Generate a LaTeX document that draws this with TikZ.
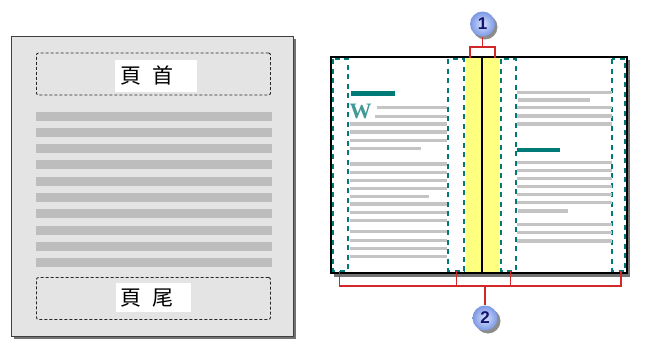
\documentclass[tikz,border=0pt]{standalone}
\usepackage{fontspec}
\newfontfamily\cjk{Noto Sans CJK TC}
\newfontfamily\wfont{Liberation Serif}
\newfontfamily\numfont{Liberation Sans}
\definecolor{pagegray}{HTML}{E4E4E4}
\definecolor{bargray}{HTML}{BDBDBD}
\definecolor{txtgray}{HTML}{C4C4C4}
\definecolor{tealc}{HTML}{007A76}
\definecolor{redc}{HTML}{D42828}
\definecolor{yel}{HTML}{FFFF80}
\definecolor{ballin}{HTML}{D8E2FF}
\definecolor{ballout}{HTML}{7C98E4}
\definecolor{navy}{HTML}{14146E}
\tikzset{
  hfbox/.style={draw=black!85, dash pattern=on 3pt off 2pt, line width=0.9pt, rounded corners=2pt, minimum width=234pt, minimum height=42pt, inner sep=0pt},
  cjklabel/.style={font=\cjk\fontsize{21}{21}\selectfont, inner sep=0pt},
  bar/.style={fill=bargray},
  tline/.style={draw=txtgray, line width=3.2pt},
  margin/.style={draw=tealc, line width=2.2pt, dash pattern=on 5pt off 4.5pt},
  callout/.style={draw=redc, line width=1.3pt},
  ballnode/.style={circle, minimum size=25pt, inner sep=0pt, inner color=ballin, outer color=ballout, font=\numfont\bfseries\fontsize{17}{17}\selectfont, text=navy},
  ballshadow/.style={circle, minimum size=25pt, inner sep=0pt, fill=black!45}
}
\begin{document}
\begin{tikzpicture}[x=1pt,y=-1pt]
\useasboundingbox (0,0) rectangle (649,338);
% ---------- left page ----------
\fill[black!55] (14,39) rectangle (296,340);
\draw[draw=black!75, fill=pagegray, line width=0.8pt] (11,36) rectangle (293,336);
\node[hfbox] (hdr) at (153.5,74) {};
\node[hfbox] (ftr) at (153.5,298.5) {};
\fill[white] (115,60) rectangle (197,92);
\fill[white] (116,283) rectangle (191,312);
\node[cjklabel] (hdrtext) at (147,75) {頁\hspace{0.5em}首};
\node[cjklabel] (ftrtext) at (147,298) {頁\hspace{0.5em}尾};
\foreach \i in {0,...,9} {
  \fill[bar] (35.5,{111.5+16.3*\i}) rectangle (271.5,{120.5+16.3*\i});
}
% ---------- right book ----------
\fill[black!55] (334,60) rectangle (630,276.5);
\fill[white] (331,57) rectangle (627,273);
\fill[yel] (465.7,57) rectangle (499,273);
% margin guides
\draw[margin] (333.3,59) rectangle (347.7,271);
\draw[margin] (448.3,59) rectangle (464.3,271);
\draw[margin] (500.7,59) rectangle (516,271);
\draw[margin] (612.3,59) rectangle (625,271);
% left page text
\fill[tealc] (351,91) rectangle (395,95.5);
\node[font=\wfont\bfseries\fontsize{22}{22}\selectfont, text=tealc!75, inner sep=0pt, anchor=base west] (w) at (349.5,118.5) {W};
\foreach \y/\a/\b in {107.7/377/447, 116.3/375/447, 124/350/447, 132/350/447, 140.7/350/447, 148.7/350/421,
  164/350/447, 172.5/350/447, 180.3/350/447, 188.3/350/447, 196.7/350/429, 204/350/447, 212.8/350/447,
  220.5/350/447, 231.5/350/447, 240.5/350/447, 248.5/350/447, 256.7/350/447} {
  \draw[tline] (\a,\y) -- (\b,\y);
}
% right page text
\fill[tealc] (517,147.5) rectangle (559.5,152);
\foreach \y/\a/\b in {92.3/517/612, 100/518/590, 107.7/517/612, 116/517/612, 124/517/612,
  162.5/517/612, 170.5/517/612, 178.5/517/612, 186.7/517/612, 194.7/517/612, 202.7/517/612,
  211/518/568, 224.5/517/612, 232.5/517/612, 241/517/612} {
  \draw[tline] (\a,\y) -- (\b,\y);
}
\draw[line width=1.5pt] (482,57) -- (482,273);
\draw[line width=1.6pt] (331,57) rectangle (627,273);
% ---------- callouts ----------
\node[ballshadow] at (485,27) {};
\node[ballnode] (c1) at (482.5,24) {1};
\node[ballshadow] at (488,321) {};
\node[ballnode] (c2) at (485,318) {2};
\coordinate (b1l) at (470,58);
\coordinate (b1r) at (495,58);
\coordinate (b1m) at (482.5,47);
\draw[callout] (b1l) |- (b1m) -| (b1r);
\draw[callout] (b1m) -- (c1.south);
\coordinate (t1) at (339.3,271);
\coordinate (t2) at (456.7,271);
\coordinate (t3) at (510.7,271);
\coordinate (t4) at (621,271);
\coordinate (b2m) at (485,286);
\draw[callout] (t1) -- (339.3,286) -- (621,286) -- (t4);
\draw[callout] (t2) -- (456.7,286);
\draw[callout] (t3) -- (510.7,286);
\draw[callout] (b2m) -- (c2.north);
\end{tikzpicture}
\end{document}
